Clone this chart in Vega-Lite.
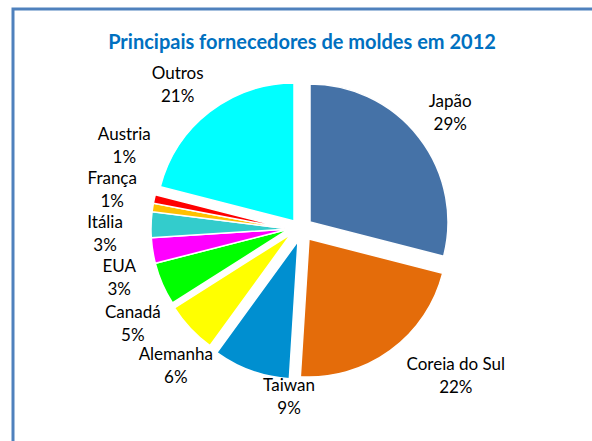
{
  "$schema": "https://vega.github.io/schema/vega-lite/v6.json",
  "width": 600,
  "height": 450,
  "autosize": {"type": "none"},
  "padding": {"left": 13, "top": 9, "right": 0, "bottom": 0},
  "background": "white",
  "view": {"stroke": "#4F81BD", "strokeWidth": 3, "fill": "white"},
  "config": {"view": {"stroke": "#4F81BD", "strokeWidth": 3}},
  "title": {"text": "Principais fornecedores de moldes em 2012", "font": "Lato", "fontSize": 20, "fontWeight": "bold", "color": "#0070C0", "anchor": "middle", "offset": -44, "dx": -11},
  "data": {"values": [
    {"pais": "Japão", "pct": 29, "ordem": 1},
    {"pais": "Coreia do Sul", "pct": 22, "ordem": 2},
    {"pais": "Taiwan", "pct": 9, "ordem": 3},
    {"pais": "Alemanha", "pct": 6, "ordem": 4},
    {"pais": "Canadá", "pct": 5, "ordem": 5},
    {"pais": "EUA", "pct": 3, "ordem": 6},
    {"pais": "Itália", "pct": 3, "ordem": 7},
    {"pais": "França", "pct": 1, "ordem": 8},
    {"pais": "Austria", "pct": 1, "ordem": 9},
    {"pais": "Outros", "pct": 21, "ordem": 10}
  ]},
  "transform": [
    {"window": [{"op": "sum", "field": "pct", "as": "fim"}], "sort": [{"field": "ordem"}], "frame": [null, 0]},
    {"calculate": "datum.fim - datum.pct", "as": "inicio"},
    {"calculate": "datum.fim - datum.pct / 2", "as": "meio"},
    {"calculate": "datum.pais + '\\n' + datum.pct + '%'", "as": "rotulo"}
  ],
  "layer": [
    {
      "transform": [{"filter": {"field": "pais", "oneOf": ["Canadá", "EUA", "Itália", "França", "Austria"]}}],
      "mark": {"type": "arc", "radius": 138, "stroke": "white", "strokeWidth": 1.5, "xOffset": -24, "yOffset": -5},
      "encoding": {
        "theta": {"field": "inicio", "type": "quantitative", "scale": {"domain": [0, 100], "range": [0, 6.283185307]}, "stack": null},
        "theta2": {"field": "fim"},
        "color": {"field": "pais", "type": "nominal", "legend": null, "scale": {"domain": ["Japão", "Coreia do Sul", "Taiwan", "Alemanha", "Canadá", "EUA", "Itália", "França", "Austria", "Outros"], "range": ["#4572A7", "#E46C0A", "#008FD0", "#FFFF00", "#00FF00", "#FF00FF", "#33CCCC", "#FFC000", "#FF0000", "#00FFFF"]}}
      }
    },
    {
      "transform": [{"filter": {"field": "pais", "equal": "Japão"}}],
      "mark": {"type": "arc", "radius": 138, "stroke": "white", "strokeWidth": 1.5, "xOffset": -3, "yOffset": -12},
      "encoding": {
        "theta": {"field": "inicio", "type": "quantitative", "stack": null},
        "theta2": {"field": "fim"},
        "color": {"field": "pais", "type": "nominal", "legend": null}
      }
    },
    {
      "transform": [{"filter": {"field": "pais", "equal": "Coreia do Sul"}}],
      "mark": {"type": "arc", "radius": 138, "stroke": "white", "strokeWidth": 1.5, "xOffset": -4, "yOffset": 5},
      "encoding": {
        "theta": {"field": "inicio", "type": "quantitative", "stack": null},
        "theta2": {"field": "fim"},
        "color": {"field": "pais", "type": "nominal", "legend": null}
      }
    },
    {
      "transform": [{"filter": {"field": "pais", "equal": "Taiwan"}}],
      "mark": {"type": "arc", "radius": 138, "stroke": "white", "strokeWidth": 1.5, "xOffset": -15, "yOffset": 7},
      "encoding": {
        "theta": {"field": "inicio", "type": "quantitative", "stack": null},
        "theta2": {"field": "fim"},
        "color": {"field": "pais", "type": "nominal", "legend": null}
      }
    },
    {
      "transform": [{"filter": {"field": "pais", "equal": "Alemanha"}}],
      "mark": {"type": "arc", "radius": 138, "stroke": "white", "strokeWidth": 1.5, "xOffset": -22, "yOffset": 0},
      "encoding": {
        "theta": {"field": "inicio", "type": "quantitative", "stack": null},
        "theta2": {"field": "fim"},
        "color": {"field": "pais", "type": "nominal", "legend": null}
      }
    },
    {
      "transform": [{"filter": {"field": "pais", "equal": "Outros"}}],
      "mark": {"type": "arc", "radius": 138, "stroke": "white", "strokeWidth": 1.5, "xOffset": -19, "yOffset": -13},
      "encoding": {
        "theta": {"field": "inicio", "type": "quantitative", "stack": null},
        "theta2": {"field": "fim"},
        "color": {"field": "pais", "type": "nominal", "legend": null}
      }
    },
    {
      "transform": [{"filter": {"field": "pais", "equal": "Japão"}}],
      "mark": {"type": "text", "radius": 180, "xOffset": -24, "yOffset": -5, "dx": 19, "dy": -16.5, "font": "Lato", "fontSize": 17, "lineHeight": 23, "lineBreak": "\n", "align": "center", "baseline": "middle", "color": "#000000"},
      "encoding": {"theta": {"field": "meio", "type": "quantitative", "stack": null}, "text": {"field": "rotulo"}}
    },
    {
      "transform": [{"filter": {"field": "pais", "equal": "Coreia do Sul"}}],
      "mark": {"type": "text", "radius": 180, "xOffset": -24, "yOffset": -5, "dx": 61, "dy": -9.5, "font": "Lato", "fontSize": 17, "lineHeight": 23, "lineBreak": "\n", "align": "center", "baseline": "middle", "color": "#000000"},
      "encoding": {"theta": {"field": "meio", "type": "quantitative", "stack": null}, "text": {"field": "rotulo"}}
    },
    {
      "transform": [{"filter": {"field": "pais", "equal": "Taiwan"}}],
      "mark": {"type": "text", "radius": 180, "xOffset": -24, "yOffset": -5, "dx": 61, "dy": -12.5, "font": "Lato", "fontSize": 17, "lineHeight": 23, "lineBreak": "\n", "align": "center", "baseline": "middle", "color": "#000000"},
      "encoding": {"theta": {"field": "meio", "type": "quantitative", "stack": null}, "text": {"field": "rotulo"}}
    },
    {
      "transform": [{"filter": {"field": "pais", "equal": "Alemanha"}}],
      "mark": {"type": "text", "radius": 180, "xOffset": -24, "yOffset": -5, "dx": 18, "dy": 2.5, "font": "Lato", "fontSize": 17, "lineHeight": 23, "lineBreak": "\n", "align": "center", "baseline": "middle", "color": "#000000"},
      "encoding": {"theta": {"field": "meio", "type": "quantitative", "stack": null}, "text": {"field": "rotulo"}}
    },
    {
      "transform": [{"filter": {"field": "pais", "equal": "Canadá"}}],
      "mark": {"type": "text", "radius": 180, "xOffset": -24, "yOffset": -5, "dx": 9, "dy": 12.5, "font": "Lato", "fontSize": 17, "lineHeight": 23, "lineBreak": "\n", "align": "center", "baseline": "middle", "color": "#000000"},
      "encoding": {"theta": {"field": "meio", "type": "quantitative", "stack": null}, "text": {"field": "rotulo"}}
    },
    {
      "transform": [{"filter": {"field": "pais", "equal": "EUA"}}],
      "mark": {"type": "text", "radius": 180, "xOffset": -24, "yOffset": -5, "dx": 8, "dy": 10, "font": "Lato", "fontSize": 17, "lineHeight": 23, "lineBreak": "\n", "align": "center", "baseline": "middle", "color": "#000000"},
      "encoding": {"theta": {"field": "meio", "type": "quantitative", "stack": null}, "text": {"field": "rotulo"}}
    },
    {
      "transform": [{"filter": {"field": "pais", "equal": "Itália"}}],
      "mark": {"type": "text", "radius": 180, "xOffset": -24, "yOffset": -5, "dx": -4, "dy": -0.5, "font": "Lato", "fontSize": 17, "lineHeight": 23, "lineBreak": "\n", "align": "center", "baseline": "middle", "color": "#000000"},
      "encoding": {"theta": {"field": "meio", "type": "quantitative", "stack": null}, "text": {"field": "rotulo"}}
    },
    {
      "transform": [{"filter": {"field": "pais", "equal": "França"}}],
      "mark": {"type": "text", "radius": 180, "xOffset": -24, "yOffset": -5, "dx": 1, "dy": -22, "font": "Lato", "fontSize": 17, "lineHeight": 23, "lineBreak": "\n", "align": "center", "baseline": "middle", "color": "#000000"},
      "encoding": {"theta": {"field": "meio", "type": "quantitative", "stack": null}, "text": {"field": "rotulo"}}
    },
    {
      "transform": [{"filter": {"field": "pais", "equal": "Austria"}}],
      "mark": {"type": "text", "radius": 180, "xOffset": -24, "yOffset": -5, "dx": 11, "dy": -54.5, "font": "Lato", "fontSize": 17, "lineHeight": 23, "lineBreak": "\n", "align": "center", "baseline": "middle", "color": "#000000"},
      "encoding": {"theta": {"field": "meio", "type": "quantitative", "stack": null}, "text": {"field": "rotulo"}}
    },
    {
      "transform": [{"filter": {"field": "pais", "equal": "Outros"}}],
      "mark": {"type": "text", "radius": 180, "xOffset": -24, "yOffset": -5, "dx": -1, "dy": -12.5, "font": "Lato", "fontSize": 17, "lineHeight": 23, "lineBreak": "\n", "align": "center", "baseline": "middle", "color": "#000000"},
      "encoding": {"theta": {"field": "meio", "type": "quantitative", "stack": null}, "text": {"field": "rotulo"}}
    }
  ]
}
